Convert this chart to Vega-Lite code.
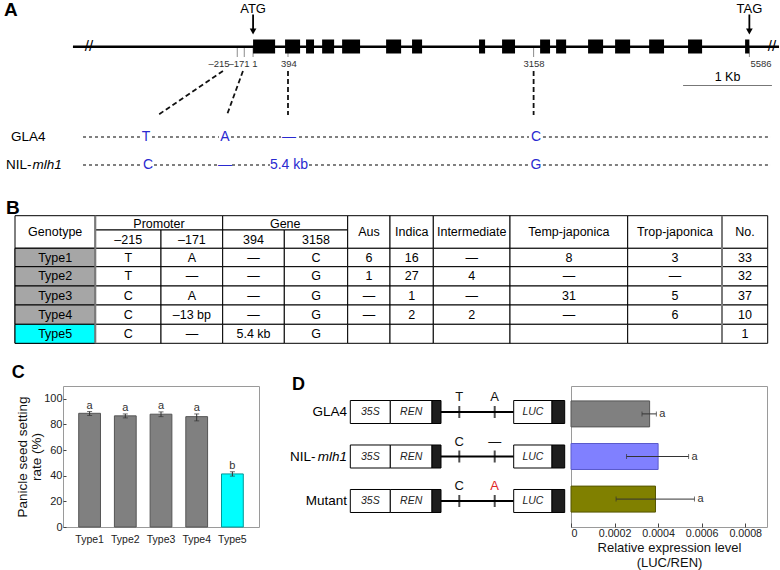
{
"$schema":"https://vega.github.io/schema/vega-lite/v6.json",
"background":"white",
"padding":{"left":3,"top":0,"right":0,"bottom":0},
"spacing":0,
"resolve":{"scale":{"fill":"independent","stroke":"independent","color":"independent"}},
"config":{"view":{"stroke":null},"font":"Liberation Sans","concat":{"spacing":0}},
"datasets":{
"exons":[{"start":1,"end":249},{"start":361,"end":530},{"start":597,"end":687},{"start":778,"end":913},{"start":1003,"end":1205},{"start":1498,"end":1667},{"start":1790,"end":1903},{"start":2544,"end":2612},{"start":2803,"end":2949},{"start":3231,"end":3343},{"start":3411,"end":3524},{"start":3771,"end":3940},{"start":4075,"end":4244},{"start":4458,"end":4626},{"start":4896,"end":5054},{"start":5538,"end":5586}],
"codons":[{"codon":"ATG","pos":1},{"codon":"TAG","pos":5586}],
"sites":[{"site":"–215","pos":-177,"lab":-383},{"site":"–171","pos":-98,"lab":-158},{"site":"1","pos":1,"lab":22},{"site":"394","pos":394,"lab":405},{"site":"3158","pos":3158,"lab":3162},{"site":"5586","pos":5586,"lab":5717}],
"links":[{"from":-338,"to":-1069},{"from":-113,"to":-293},{"from":394,"to":394},{"from":3158,"to":3158}],
"segments":[{"line":"GLA4","from":-1913,"to":-1272},{"line":"GLA4","from":-1137,"to":-383},{"line":"GLA4","from":-248,"to":315},{"line":"GLA4","from":518,"to":3106},{"line":"GLA4","from":3263,"to":5829},{"line":"NIL","from":-1913,"to":-1260},{"line":"NIL","from":-1114,"to":-383},{"line":"NIL","from":-236,"to":191},{"line":"NIL","from":630,"to":3106},{"line":"NIL","from":3263,"to":5829}],
"alleles":[{"line":"GLA4","pos":-1204,"allele":"T"},{"line":"GLA4","pos":-315,"allele":"A"},{"line":"GLA4","pos":405,"allele":"—"},{"line":"GLA4","pos":3185,"allele":"C"},{"line":"NIL","pos":-1182,"allele":"C"},{"line":"NIL","pos":-315,"allele":"—"},{"line":"NIL","pos":405,"allele":"5.4 kb"},{"line":"NIL","pos":3185,"allele":"G"}],
"breaks":[{"pos":-1846},{"pos":5841}],
"cols":[{"c":"Genotype","x0":0,"x1":80.3,"xc":40.2},{"c":"Promoter","x0":80.3,"x1":207.7,"xc":144},{"c":"p215","x0":80.3,"x1":146,"xc":113.2},{"c":"p171","x0":146,"x1":207.7,"xc":176.9},{"c":"Gene","x0":207.7,"x1":332.7,"xc":270.2},{"c":"g394","x0":207.7,"x1":269.3,"xc":238.5},{"c":"g3158","x0":269.3,"x1":332.7,"xc":301},{"c":"Aus","x0":332.7,"x1":375,"xc":353.9},{"c":"Indica","x0":375,"x1":418.3,"xc":396.7},{"c":"Intermediate","x0":418.3,"x1":495,"xc":456.7},{"c":"Temp","x0":495,"x1":612.7,"xc":553.9},{"c":"Trop","x0":612.7,"x1":707,"xc":659.9},{"c":"No","x0":707,"x1":752.7,"xc":729.9}],
"rows":[{"r":"hd","y0":0,"y1":32.6,"yc":16.3},{"r":"hd1","y0":0,"y1":14.3,"yc":8.2},{"r":"hd2","y0":14.3,"y1":32.6,"yc":23.8},{"r":"Type1","y0":32.6,"y1":51,"yc":41.8},{"r":"Type2","y0":51,"y1":70.3,"yc":60.7},{"r":"Type3","y0":70.3,"y1":89.3,"yc":79.8},{"r":"Type4","y0":89.3,"y1":108.6,"yc":99},{"r":"Type5","y0":108.6,"y1":127.6,"yc":118.1}],
"cells":[
{"r":"hd","c":"Genotype","t":"Genotype"},{"r":"hd1","c":"Promoter","t":"Promoter"},{"r":"hd1","c":"Gene","t":"Gene"},{"r":"hd2","c":"p215","t":"–215"},{"r":"hd2","c":"p171","t":"–171"},{"r":"hd2","c":"g394","t":"394"},{"r":"hd2","c":"g3158","t":"3158"},{"r":"hd","c":"Aus","t":"Aus"},{"r":"hd","c":"Indica","t":"Indica"},{"r":"hd","c":"Intermediate","t":"Intermediate"},{"r":"hd","c":"Temp","t":"Temp-japonica"},{"r":"hd","c":"Trop","t":"Trop-japonica"},{"r":"hd","c":"No","t":"No."},
{"r":"Type1","c":"Genotype","t":"Type1"},{"r":"Type1","c":"p215","t":"T"},{"r":"Type1","c":"p171","t":"A"},{"r":"Type1","c":"g394","t":"—"},{"r":"Type1","c":"g3158","t":"C"},{"r":"Type1","c":"Aus","t":"6"},{"r":"Type1","c":"Indica","t":"16"},{"r":"Type1","c":"Intermediate","t":"—"},{"r":"Type1","c":"Temp","t":"8"},{"r":"Type1","c":"Trop","t":"3"},{"r":"Type1","c":"No","t":"33"},
{"r":"Type2","c":"Genotype","t":"Type2"},{"r":"Type2","c":"p215","t":"T"},{"r":"Type2","c":"p171","t":"—"},{"r":"Type2","c":"g394","t":"—"},{"r":"Type2","c":"g3158","t":"G"},{"r":"Type2","c":"Aus","t":"1"},{"r":"Type2","c":"Indica","t":"27"},{"r":"Type2","c":"Intermediate","t":"4"},{"r":"Type2","c":"Temp","t":"—"},{"r":"Type2","c":"Trop","t":"—"},{"r":"Type2","c":"No","t":"32"},
{"r":"Type3","c":"Genotype","t":"Type3"},{"r":"Type3","c":"p215","t":"C"},{"r":"Type3","c":"p171","t":"A"},{"r":"Type3","c":"g394","t":"—"},{"r":"Type3","c":"g3158","t":"G"},{"r":"Type3","c":"Aus","t":"—"},{"r":"Type3","c":"Indica","t":"1"},{"r":"Type3","c":"Intermediate","t":"—"},{"r":"Type3","c":"Temp","t":"31"},{"r":"Type3","c":"Trop","t":"5"},{"r":"Type3","c":"No","t":"37"},
{"r":"Type4","c":"Genotype","t":"Type4"},{"r":"Type4","c":"p215","t":"C"},{"r":"Type4","c":"p171","t":"–13 bp"},{"r":"Type4","c":"g394","t":"—"},{"r":"Type4","c":"g3158","t":"G"},{"r":"Type4","c":"Aus","t":"—"},{"r":"Type4","c":"Indica","t":"2"},{"r":"Type4","c":"Intermediate","t":"2"},{"r":"Type4","c":"Temp","t":"—"},{"r":"Type4","c":"Trop","t":"6"},{"r":"Type4","c":"No","t":"10"},
{"r":"Type5","c":"Genotype","t":"Type5"},{"r":"Type5","c":"p215","t":"C"},{"r":"Type5","c":"p171","t":"—"},{"r":"Type5","c":"g394","t":"5.4 kb"},{"r":"Type5","c":"g3158","t":"G"},{"r":"Type5","c":"Aus","t":""},{"r":"Type5","c":"Indica","t":""},{"r":"Type5","c":"Intermediate","t":""},{"r":"Type5","c":"Temp","t":""},{"r":"Type5","c":"Trop","t":""},{"r":"Type5","c":"No","t":"1"}],
"seed":[{"type":"Type1","rate":88.7,"lo":87.0,"hi":90.1,"sig":"a"},{"type":"Type2","rate":86.7,"lo":85.1,"hi":88.2,"sig":"a"},{"type":"Type3","rate":88.0,"lo":86.1,"hi":89.8,"sig":"a"},{"type":"Type4","rate":86.1,"lo":82.8,"hi":88.2,"sig":"a"},{"type":"Type5","rate":41.4,"lo":39.7,"hi":43.1,"sig":"b"}],
"luc":[{"construct":"GLA4","val":0.000361,"lo":0.000326,"hi":0.000392,"sig":"a"},{"construct":"NIL-mlh1","val":0.0004,"lo":0.000255,"hi":0.00054,"sig":"a"},{"construct":"Mutant","val":0.000388,"lo":0.000207,"hi":0.000567,"sig":"a"}],
"constructs":[{"construct":"GLA4"},{"construct":"NIL-mlh1"},{"construct":"Mutant"}],
"parts":[
{"construct":"GLA4","part":"35S","start":86.3,"end":126.3,"mid":106.3},{"construct":"GLA4","part":"REN","start":126.3,"end":168,"mid":147.2},{"construct":"GLA4","part":"term","start":168,"end":177,"mid":172.5},{"construct":"GLA4","part":"LUC","start":249.7,"end":288,"mid":268.9},{"construct":"GLA4","part":"term","start":288,"end":300.7,"mid":294.4},
{"construct":"NIL-mlh1","part":"35S","start":86.3,"end":126.3,"mid":106.3},{"construct":"NIL-mlh1","part":"REN","start":126.3,"end":168,"mid":147.2},{"construct":"NIL-mlh1","part":"term","start":168,"end":177,"mid":172.5},{"construct":"NIL-mlh1","part":"LUC","start":249.7,"end":288,"mid":268.9},{"construct":"NIL-mlh1","part":"term","start":288,"end":300.7,"mid":294.4},
{"construct":"Mutant","part":"35S","start":86.3,"end":126.3,"mid":106.3},{"construct":"Mutant","part":"REN","start":126.3,"end":168,"mid":147.2},{"construct":"Mutant","part":"term","start":168,"end":177,"mid":172.5},{"construct":"Mutant","part":"LUC","start":249.7,"end":288,"mid":268.9},{"construct":"Mutant","part":"term","start":288,"end":300.7,"mid":294.4}],
"ddsites":[{"construct":"GLA4","site":"–215","pos":195.3,"allele":"T"},{"construct":"GLA4","site":"–171","pos":230.7,"allele":"A"},{"construct":"NIL-mlh1","site":"–215","pos":195.3,"allele":"C"},{"construct":"NIL-mlh1","site":"–171","pos":230.7,"allele":"—"},{"construct":"Mutant","site":"–215","pos":195.3,"allele":"C"},{"construct":"Mutant","site":"–171","pos":230.7,"allele":"A"}]
},
"vconcat":[
{
"width":718,"height":195,
"data":{"values":[{}]},
"layer":[
{"mark":{"type":"rule","strokeWidth":2.5,"color":"black"},"encoding":{"x":{"datum":-2026,"type":"quantitative","scale":{"domain":[-2138,5942]},"axis":null},"x2":{"datum":5920},"y":{"datum":4.67,"type":"quantitative","scale":{"domain":[0,19.5],"reverse":true},"axis":null}}},
{"data":{"name":"sites"},"mark":{"type":"rule","color":"#8c8c8c","strokeWidth":1},"encoding":{"x":{"field":"pos","type":"quantitative","scale":{"domain":[-2138,5942]},"axis":null},"y":{"datum":4.8,"type":"quantitative","scale":{"domain":[0,19.5],"reverse":true},"axis":null},"y2":{"datum":5.7}}},
{"data":{"name":"exons"},"mark":{"type":"rect","color":"black"},"encoding":{"x":{"field":"start","type":"quantitative","scale":{"domain":[-2138,5942]},"axis":null},"x2":{"field":"end"},"y":{"datum":3.95,"type":"quantitative","scale":{"domain":[0,19.5],"reverse":true},"axis":null},"y2":{"datum":5.35}}},
{"data":{"name":"codons"},"mark":{"type":"rule","strokeWidth":1.8,"color":"black"},"encoding":{"x":{"field":"pos","type":"quantitative","scale":{"domain":[-2138,5942]},"axis":null},"y":{"datum":1.45,"type":"quantitative","scale":{"domain":[0,19.5],"reverse":true},"axis":null},"y2":{"datum":3.05}}},
{"data":{"name":"codons"},"mark":{"type":"point","shape":"triangle-down","filled":true,"size":45,"color":"black","opacity":1},"encoding":{"x":{"field":"pos","type":"quantitative","scale":{"domain":[-2138,5942]},"axis":null},"y":{"datum":3.15,"type":"quantitative","scale":{"domain":[0,19.5],"reverse":true},"axis":null}}},
{"data":{"name":"codons"},"mark":{"type":"text","fontSize":13,"color":"black","baseline":"middle"},"encoding":{"x":{"field":"pos","type":"quantitative","scale":{"domain":[-2138,5942]},"axis":null},"y":{"datum":0.85,"type":"quantitative","scale":{"domain":[0,19.5],"reverse":true},"axis":null},"text":{"field":"codon"}}},
{"data":{"name":"sites"},"mark":{"type":"text","fontSize":9.5,"color":"#333333","baseline":"middle"},"encoding":{"x":{"field":"lab","type":"quantitative","scale":{"domain":[-2138,5942]},"axis":null},"y":{"datum":6.4,"type":"quantitative","scale":{"domain":[0,19.5],"reverse":true},"axis":null},"text":{"field":"site"}}},
{"data":{"name":"links"},"mark":{"type":"rule","strokeWidth":1.8,"strokeDash":[5,3],"color":"#111111"},"encoding":{"x":{"field":"from","type":"quantitative","scale":{"domain":[-2138,5942]},"axis":null},"x2":{"field":"to"},"y":{"datum":7.1,"type":"quantitative","scale":{"domain":[0,19.5],"reverse":true},"axis":null},"y2":{"datum":11.5}}},
{"mark":{"type":"rule","strokeWidth":1,"color":"#777777"},"encoding":{"x":{"datum":4840,"type":"quantitative","scale":{"domain":[-2138,5942]},"axis":null},"x2":{"datum":5840},"y":{"datum":8.55,"type":"quantitative","scale":{"domain":[0,19.5],"reverse":true},"axis":null}}},
{"mark":{"type":"text","fontSize":12.5,"color":"black","baseline":"middle"},"encoding":{"x":{"datum":5340,"type":"quantitative","scale":{"domain":[-2138,5942]},"axis":null},"y":{"datum":7.65,"type":"quantitative","scale":{"domain":[0,19.5],"reverse":true},"axis":null},"text":{"value":"1 Kb"}}},
{"data":{"name":"breaks"},"mark":{"type":"text","fontSize":15,"color":"black","baseline":"middle"},"encoding":{"x":{"field":"pos","type":"quantitative","scale":{"domain":[-2138,5942]},"axis":null},"y":{"datum":4.6,"type":"quantitative","scale":{"domain":[0,19.5],"reverse":true},"axis":null},"text":{"value":"//"}}},
{"data":{"name":"segments"},"transform":[{"filter":"datum.line === 'GLA4'"}],"mark":{"type":"rule","strokeWidth":1.2,"strokeDash":[3,3],"color":"black"},"encoding":{"x":{"field":"from","type":"quantitative","scale":{"domain":[-2138,5942]},"axis":null},"x2":{"field":"to"},"y":{"datum":13.7,"type":"quantitative","scale":{"domain":[0,19.5],"reverse":true},"axis":null}}},
{"data":{"name":"segments"},"transform":[{"filter":"datum.line === 'NIL'"}],"mark":{"type":"rule","strokeWidth":1.2,"strokeDash":[3,3],"color":"black"},"encoding":{"x":{"field":"from","type":"quantitative","scale":{"domain":[-2138,5942]},"axis":null},"x2":{"field":"to"},"y":{"datum":16.5,"type":"quantitative","scale":{"domain":[0,19.5],"reverse":true},"axis":null}}},
{"data":{"name":"alleles"},"transform":[{"filter":"datum.line === 'GLA4'"}],"mark":{"type":"text","fontSize":14,"color":"#2a2ad0","baseline":"middle"},"encoding":{"x":{"field":"pos","type":"quantitative","scale":{"domain":[-2138,5942]},"axis":null},"y":{"datum":13.7,"type":"quantitative","scale":{"domain":[0,19.5],"reverse":true},"axis":null},"text":{"field":"allele"}}},
{"data":{"name":"alleles"},"transform":[{"filter":"datum.line === 'NIL'"}],"mark":{"type":"text","fontSize":14,"color":"#2a2ad0","baseline":"middle"},"encoding":{"x":{"field":"pos","type":"quantitative","scale":{"domain":[-2138,5942]},"axis":null},"y":{"datum":16.5,"type":"quantitative","scale":{"domain":[0,19.5],"reverse":true},"axis":null},"text":{"field":"allele"}}},
{"mark":{"type":"text","fontSize":13.5,"color":"black","align":"left","baseline":"middle"},"encoding":{"x":{"datum":-2723,"type":"quantitative","scale":{"domain":[-2138,5942]},"axis":null},"y":{"datum":13.7,"type":"quantitative","scale":{"domain":[0,19.5],"reverse":true},"axis":null},"text":{"value":"GLA4"}}},
{"mark":{"type":"text","fontSize":13.5,"color":"black","align":"left","baseline":"middle"},"encoding":{"x":{"datum":-2779,"type":"quantitative","scale":{"domain":[-2138,5942]},"axis":null},"y":{"datum":16.5,"type":"quantitative","scale":{"domain":[0,19.5],"reverse":true},"axis":null},"text":{"value":"NIL-"}}},
{"mark":{"type":"text","fontSize":13.5,"color":"black","align":"left","baseline":"middle","fontStyle":"italic"},"encoding":{"x":{"datum":-2481,"type":"quantitative","scale":{"domain":[-2138,5942]},"axis":null},"y":{"datum":16.5,"type":"quantitative","scale":{"domain":[0,19.5],"reverse":true},"axis":null},"text":{"value":"mlh1"}}},
{"mark":{"type":"text","fontSize":19,"fontWeight":"bold","color":"black","align":"left","baseline":"middle"},"encoding":{"x":{"datum":-2802,"type":"quantitative","scale":{"domain":[-2138,5942]},"axis":null},"y":{"datum":0.95,"type":"quantitative","scale":{"domain":[0,19.5],"reverse":true},"axis":null},"text":{"value":"A"}}}
]
},
{
"width":718,"height":168,
"layer":[
{"data":{"name":"cells"},"transform":[{"lookup":"c","from":{"data":{"name":"cols"},"key":"c","fields":["x0","x1","xc"]}},{"lookup":"r","from":{"data":{"name":"rows"},"key":"r","fields":["y0","y1","yc"]}}],
 "mark":{"type":"rect","fill":"white","stroke":"black","strokeWidth":1},
 "encoding":{"x":{"field":"x0","type":"quantitative","scale":{"domain":[48,766]},"axis":null},"x2":{"field":"x1"},"y":{"field":"y0","type":"quantitative","scale":{"domain":[-20.7,147.3],"reverse":true},"axis":null},"y2":{"field":"y1"}}},
{"data":{"name":"cells"},"transform":[{"filter":"datum.c === 'Genotype' && datum.r !== 'hd'"},{"lookup":"c","from":{"data":{"name":"cols"},"key":"c","fields":["x0","x1","xc"]}},{"lookup":"r","from":{"data":{"name":"rows"},"key":"r","fields":["y0","y1","yc"]}}],
 "mark":{"type":"rect","stroke":"black","strokeWidth":1},
 "encoding":{"x":{"field":"x0","type":"quantitative","scale":{"domain":[48,766]},"axis":null},"x2":{"field":"x1"},"y":{"field":"y0","type":"quantitative","scale":{"domain":[-20.7,147.3],"reverse":true},"axis":null},"y2":{"field":"y1"},
 "fill":{"field":"r","type":"nominal","scale":{"domain":["Type1","Type2","Type3","Type4","Type5"],"range":["#a6a6a6","#a6a6a6","#a6a6a6","#a6a6a6","#00ffff"]},"legend":null}}},
{"data":{"name":"cols"},"transform":[{"filter":"datum.c === 'Promoter' || datum.c === 'No'"}],
 "mark":{"type":"rule","color":"#7a7a7a","strokeWidth":2},
 "encoding":{"x":{"field":"x0","type":"quantitative","scale":{"domain":[48,766]},"axis":null},"y":{"datum":0,"type":"quantitative","scale":{"domain":[-20.7,147.3],"reverse":true},"axis":null},"y2":{"datum":127.6}}},
{"data":{"name":"cells"},"transform":[{"lookup":"c","from":{"data":{"name":"cols"},"key":"c","fields":["x0","x1","xc"]}},{"lookup":"r","from":{"data":{"name":"rows"},"key":"r","fields":["y0","y1","yc"]}}],
 "mark":{"type":"text","fontSize":12.5,"color":"black","baseline":"middle","align":"center"},
 "encoding":{"x":{"field":"xc","type":"quantitative","scale":{"domain":[48,766]},"axis":null},"y":{"field":"yc","type":"quantitative","scale":{"domain":[-20.7,147.3],"reverse":true},"axis":null},"text":{"field":"t"}}},
{"data":{"values":[{}]},"mark":{"type":"text","fontSize":19,"fontWeight":"bold","color":"black","align":"left","baseline":"middle"},
 "encoding":{"x":{"datum":-9,"type":"quantitative","scale":{"domain":[48,766]},"axis":null},"y":{"datum":-8.2,"type":"quantitative","scale":{"domain":[-20.7,147.3],"reverse":true},"axis":null},"text":{"value":"B"}}}
]
},
{
"spacing":4,
"resolve":{"scale":{"fill":"independent","stroke":"independent","color":"independent"}},
"hconcat":[
{
"width":196,"height":141,
"view":{"stroke":"#9a9a9a"},
"title":{"text":"C","anchor":"start","frame":"bounds","fontSize":18,"fontWeight":"bold","offset":4,"dx":-4,"color":"black"},
"data":{"name":"seed"},
"encoding":{"x":{"field":"type","type":"nominal","sort":null,"scale":{"paddingInner":0.39,"paddingOuter":0.44},"axis":{"ticks":false,"domain":false,"labelAngle":0,"labelFontSize":10.5,"labelPadding":7,"labelColor":"#222222","title":null}}},
"layer":[
{"mark":{"type":"bar","strokeWidth":1},
 "encoding":{"y":{"field":"rate","type":"quantitative","scale":{"domain":[0,110]},"title":["Panicle seed setting","rate (%)"],
   "axis":{"values":[0,20,40,60,80,100],"grid":false,"domain":false,"ticks":true,"tickSize":-3,"tickColor":"#444444","labelOverlap":false,"labelSeparation":0,"labelFontSize":11,"labelColor":"#222222","labelPadding":4,"titleFontSize":13.5,"titleLineHeight":14,"titleFontWeight":"normal","titleColor":"#111111","titlePadding":0}},
  "fill":{"field":"type","type":"nominal","scale":{"domain":["Type1","Type2","Type3","Type4","Type5"],"range":["#808080","#808080","#808080","#808080","#00ffff"]},"legend":null},
  "stroke":{"field":"type","type":"nominal","scale":{"domain":["Type1","Type2","Type3","Type4","Type5"],"range":["#555555","#555555","#555555","#555555","#009999"]},"legend":null}}},
{"mark":{"type":"errorbar","ticks":true,"size":5,"thickness":1,"color":"#333333"},
 "encoding":{"y":{"field":"lo","type":"quantitative","title":["Panicle seed setting","rate (%)"],
   "axis":{"values":[0,20,40,60,80,100],"grid":false,"domain":false,"ticks":true,"tickSize":-3,"tickColor":"#444444","labelOverlap":false,"labelSeparation":0,"labelFontSize":11,"labelColor":"#222222","labelPadding":4,"titleFontSize":13.5,"titleLineHeight":14,"titleFontWeight":"normal","titleColor":"#111111","titlePadding":0}},"y2":{"field":"hi"}}},
{"mark":{"type":"text","fontSize":11,"color":"#333333","baseline":"alphabetic","dy":-3},
 "encoding":{"y":{"field":"hi","type":"quantitative","title":["Panicle seed setting","rate (%)"],
   "axis":{"values":[0,20,40,60,80,100],"grid":false,"domain":false,"ticks":true,"tickSize":-3,"tickColor":"#444444","labelOverlap":false,"labelSeparation":0,"labelFontSize":11,"labelColor":"#222222","labelPadding":4,"titleFontSize":13.5,"titleLineHeight":14,"titleFontWeight":"normal","titleColor":"#111111","titlePadding":0}},"text":{"field":"sig"}}}
]
},
{
"width":301,"height":141,
"layer":[
{"data":{"name":"constructs"},"mark":{"type":"rule","strokeWidth":2,"color":"black"},
 "encoding":{"x":{"datum":177,"type":"quantitative","scale":{"domain":[0,301]},"axis":null},"x2":{"datum":249.7},"y":{"field":"construct","type":"nominal","sort":null,"scale":{"domain":["GLA4","NIL-mlh1","Mutant"],"paddingInner":0.483,"paddingOuter":0.326},"axis":null}}},
{"data":{"name":"parts"},"mark":{"type":"rect","stroke":"black","strokeWidth":1},
 "encoding":{"x":{"field":"start","type":"quantitative","scale":{"domain":[0,301]},"axis":null},"x2":{"field":"end"},"y":{"field":"construct","type":"nominal","sort":null,"scale":{"domain":["GLA4","NIL-mlh1","Mutant"],"paddingInner":0.483,"paddingOuter":0.326},"axis":null},
 "fill":{"field":"part","type":"nominal","scale":{"domain":["35S","REN","LUC","term"],"range":["#ffffff","#ffffff","#ffffff","#1e1e1e"]},"legend":null}}},
{"data":{"name":"parts"},"transform":[{"filter":"datum.part !== 'term'"}],"mark":{"type":"text","fontSize":10.5,"fontStyle":"italic","color":"#222222","baseline":"middle"},
 "encoding":{"x":{"field":"mid","type":"quantitative","scale":{"domain":[0,301]},"axis":null},"y":{"field":"construct","type":"nominal","sort":null,"scale":{"domain":["GLA4","NIL-mlh1","Mutant"],"paddingInner":0.483,"paddingOuter":0.326},"axis":null},"text":{"field":"part"}}},
{"data":{"name":"ddsites"},"mark":{"type":"tick","size":12,"thickness":2,"color":"black","orient":"vertical"},
 "encoding":{"x":{"field":"pos","type":"quantitative","scale":{"domain":[0,301]},"axis":null},"y":{"field":"construct","type":"nominal","sort":null,"scale":{"domain":["GLA4","NIL-mlh1","Mutant"],"paddingInner":0.483,"paddingOuter":0.326},"axis":null}}},
{"data":{"name":"ddsites"},"mark":{"type":"text","fontSize":13,"baseline":"middle","dy":-15},
 "encoding":{"x":{"field":"pos","type":"quantitative","scale":{"domain":[0,301]},"axis":null},"y":{"field":"construct","type":"nominal","sort":null,"scale":{"domain":["GLA4","NIL-mlh1","Mutant"],"paddingInner":0.483,"paddingOuter":0.326},"axis":null},"text":{"field":"allele"},
 "color":{"condition":{"test":"datum.construct === 'Mutant' && datum.site === '–171'","value":"#e02424"},"value":"#111111"}}},
{"data":{"name":"constructs"},"transform":[{"filter":"datum.construct !== 'NIL-mlh1'"}],"mark":{"type":"text","fontSize":13.5,"align":"right","baseline":"middle","color":"black"},
 "encoding":{"x":{"datum":83,"type":"quantitative","scale":{"domain":[0,301]},"axis":null},"y":{"field":"construct","type":"nominal","sort":null,"scale":{"domain":["GLA4","NIL-mlh1","Mutant"],"paddingInner":0.483,"paddingOuter":0.326},"axis":null},"text":{"field":"construct"}}},
{"data":{"name":"constructs"},"transform":[{"filter":"datum.construct === 'NIL-mlh1'"}],"mark":{"type":"text","fontSize":13.5,"align":"right","baseline":"middle","color":"black"},
 "encoding":{"x":{"datum":51.5,"type":"quantitative","scale":{"domain":[0,301]},"axis":null},"y":{"field":"construct","type":"nominal","sort":null,"scale":{"domain":["GLA4","NIL-mlh1","Mutant"],"paddingInner":0.483,"paddingOuter":0.326},"axis":null},"text":{"value":"NIL-"}}},
{"data":{"name":"constructs"},"transform":[{"filter":"datum.construct === 'NIL-mlh1'"}],"mark":{"type":"text","fontSize":13.5,"align":"right","baseline":"middle","fontStyle":"italic","color":"black"},
 "encoding":{"x":{"datum":83,"type":"quantitative","scale":{"domain":[0,301]},"axis":null},"y":{"field":"construct","type":"nominal","sort":null,"scale":{"domain":["GLA4","NIL-mlh1","Mutant"],"paddingInner":0.483,"paddingOuter":0.326},"axis":null},"text":{"value":"mlh1"}}},
{"data":{"name":"constructs"},"transform":[{"filter":"datum.construct === 'GLA4'"}],"mark":{"type":"text","fontSize":18,"fontWeight":"bold","align":"left","baseline":"middle","color":"black","dy":-27},
 "encoding":{"x":{"datum":28,"type":"quantitative","scale":{"domain":[0,301]},"axis":null},"y":{"field":"construct","type":"nominal","sort":null,"scale":{"domain":["GLA4","NIL-mlh1","Mutant"],"paddingInner":0.483,"paddingOuter":0.326},"axis":null},"text":{"value":"D"}}}
]
},
{
"width":196,"height":141,
"view":{"stroke":"#9a9a9a"},
"data":{"name":"luc"},
"encoding":{"y":{"field":"construct","type":"nominal","sort":null,"scale":{"domain":["GLA4","NIL-mlh1","Mutant"],"paddingInner":0.39,"paddingOuter":0.35},"axis":null}},
"layer":[
{"mark":{"type":"bar","strokeWidth":1},
 "encoding":{"x":{"field":"val","type":"quantitative","scale":{"domain":[0,0.0009]},"title":["Relative expression level","(LUC/REN)"],
   "axis":{"values":[0,0.0002,0.0004,0.0006,0.0008],"format":".4~f","grid":false,"domain":false,"tickSize":-4,"tickColor":"#444444","labelFontSize":10.7,"labelColor":"#222222","labelPadding":5,"titleFontSize":13,"titleFontWeight":"normal","titleColor":"#111111","titlePadding":4}},
  "fill":{"field":"construct","type":"nominal","scale":{"domain":["GLA4","NIL-mlh1","Mutant"],"range":["#808080","#8080ff","#808000"]},"legend":null},
  "stroke":{"field":"construct","type":"nominal","scale":{"domain":["GLA4","NIL-mlh1","Mutant"],"range":["#555555","#5a5acc","#555500"]},"legend":null}}},
{"mark":{"type":"errorbar","ticks":true,"size":5,"thickness":1,"color":"#333333"},
 "encoding":{"x":{"field":"lo","type":"quantitative","title":["Relative expression level","(LUC/REN)"]},"x2":{"field":"hi"}}},
{"mark":{"type":"text","fontSize":11,"color":"#333333","align":"left","baseline":"middle","dx":3},
 "encoding":{"x":{"field":"hi","type":"quantitative","title":["Relative expression level","(LUC/REN)"]},"text":{"field":"sig"}}}
]
}
]
}
]
}
